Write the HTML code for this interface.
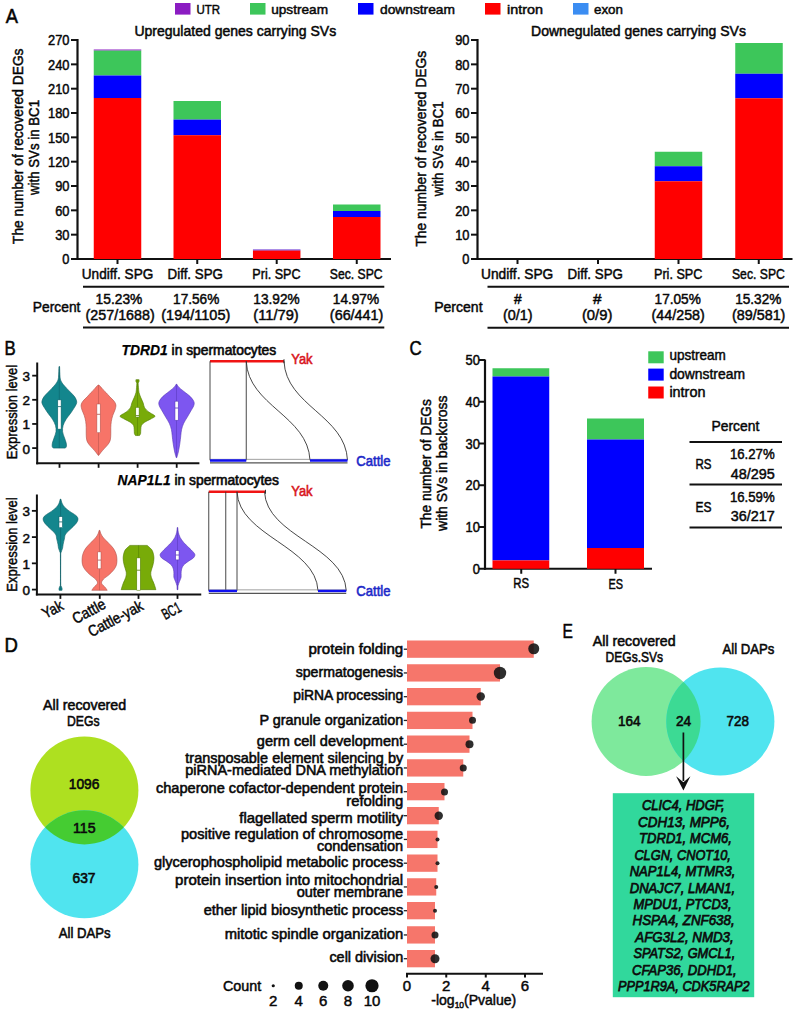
<!DOCTYPE html>
<html><head><meta charset="utf-8"><style>
html,body{margin:0;padding:0;background:#fff;}
svg{display:block;font-family:"Liberation Sans",sans-serif;}
</style></head><body>
<svg width="800" height="1016" viewBox="0 0 800 1016">
<rect width="800" height="1016" fill="#fff"/>
<text x="5.80" y="22.50" font-size="21" stroke="#111" stroke-width="0.6" textLength="12.20" lengthAdjust="spacingAndGlyphs">A</text>
<rect x="175.00" y="3.00" width="15.50" height="11.60" fill="#8B1CC2"/>
<text x="196.40" y="14.30" font-size="13.5" stroke="#111" stroke-width="0.5" textLength="23.60" lengthAdjust="spacingAndGlyphs">UTR</text>
<rect x="250.00" y="3.00" width="15.50" height="11.60" fill="#3DC65A"/>
<text x="271.20" y="14.30" font-size="13.5" stroke="#111" stroke-width="0.5" textLength="56.80" lengthAdjust="spacingAndGlyphs">upstream</text>
<rect x="358.00" y="3.00" width="15.50" height="11.60" fill="#0000FF"/>
<text x="380.00" y="14.30" font-size="13.5" stroke="#111" stroke-width="0.5" textLength="75.00" lengthAdjust="spacingAndGlyphs">downstream</text>
<rect x="485.00" y="3.00" width="15.50" height="11.60" fill="#FF0000"/>
<text x="507.00" y="14.30" font-size="13.5" stroke="#111" stroke-width="0.5" textLength="36.00" lengthAdjust="spacingAndGlyphs">intron</text>
<rect x="573.00" y="3.00" width="15.50" height="11.60" fill="#3B8DF2"/>
<text x="594.00" y="14.30" font-size="13.5" stroke="#111" stroke-width="0.5" textLength="29.00" lengthAdjust="spacingAndGlyphs">exon</text>
<text x="134.40" y="36.00" font-size="15" stroke="#111" stroke-width="0.55" textLength="201.80" lengthAdjust="spacingAndGlyphs">Upregulated genes carrying SVs</text>
<text x="531.10" y="36.00" font-size="15" stroke="#111" stroke-width="0.55" textLength="214.80" lengthAdjust="spacingAndGlyphs">Downegulated genes carrying SVs</text>
<line x1="77.50" y1="39.00" x2="77.50" y2="260.00" stroke="#111" stroke-width="2.2"/>
<line x1="76.50" y1="259.00" x2="391.00" y2="259.00" stroke="#111" stroke-width="2.2"/>
<line x1="71.00" y1="259.00" x2="77.50" y2="259.00" stroke="#111" stroke-width="2"/>
<text x="69.50" y="264.20" font-size="14.5" stroke="#111" stroke-width="0.5" text-anchor="end" textLength="7.15" lengthAdjust="spacingAndGlyphs">0</text>
<line x1="71.00" y1="234.67" x2="77.50" y2="234.67" stroke="#111" stroke-width="2"/>
<text x="69.50" y="239.87" font-size="14.5" stroke="#111" stroke-width="0.5" text-anchor="end" textLength="14.30" lengthAdjust="spacingAndGlyphs">30</text>
<line x1="71.00" y1="210.34" x2="77.50" y2="210.34" stroke="#111" stroke-width="2"/>
<text x="69.50" y="215.54" font-size="14.5" stroke="#111" stroke-width="0.5" text-anchor="end" textLength="14.30" lengthAdjust="spacingAndGlyphs">60</text>
<line x1="71.00" y1="186.01" x2="77.50" y2="186.01" stroke="#111" stroke-width="2"/>
<text x="69.50" y="191.21" font-size="14.5" stroke="#111" stroke-width="0.5" text-anchor="end" textLength="14.30" lengthAdjust="spacingAndGlyphs">90</text>
<line x1="71.00" y1="161.68" x2="77.50" y2="161.68" stroke="#111" stroke-width="2"/>
<text x="69.50" y="166.88" font-size="14.5" stroke="#111" stroke-width="0.5" text-anchor="end" textLength="21.45" lengthAdjust="spacingAndGlyphs">120</text>
<line x1="71.00" y1="137.35" x2="77.50" y2="137.35" stroke="#111" stroke-width="2"/>
<text x="69.50" y="142.55" font-size="14.5" stroke="#111" stroke-width="0.5" text-anchor="end" textLength="21.45" lengthAdjust="spacingAndGlyphs">150</text>
<line x1="71.00" y1="113.02" x2="77.50" y2="113.02" stroke="#111" stroke-width="2"/>
<text x="69.50" y="118.22" font-size="14.5" stroke="#111" stroke-width="0.5" text-anchor="end" textLength="21.45" lengthAdjust="spacingAndGlyphs">180</text>
<line x1="71.00" y1="88.69" x2="77.50" y2="88.69" stroke="#111" stroke-width="2"/>
<text x="69.50" y="93.89" font-size="14.5" stroke="#111" stroke-width="0.5" text-anchor="end" textLength="21.45" lengthAdjust="spacingAndGlyphs">210</text>
<line x1="71.00" y1="64.36" x2="77.50" y2="64.36" stroke="#111" stroke-width="2"/>
<text x="69.50" y="69.56" font-size="14.5" stroke="#111" stroke-width="0.5" text-anchor="end" textLength="21.45" lengthAdjust="spacingAndGlyphs">240</text>
<line x1="71.00" y1="40.03" x2="77.50" y2="40.03" stroke="#111" stroke-width="2"/>
<text x="69.50" y="45.23" font-size="14.5" stroke="#111" stroke-width="0.5" text-anchor="end" textLength="21.45" lengthAdjust="spacingAndGlyphs">270</text>
<line x1="117.50" y1="259.00" x2="117.50" y2="264.00" stroke="#111" stroke-width="2"/>
<line x1="197.25" y1="259.00" x2="197.25" y2="264.00" stroke="#111" stroke-width="2"/>
<line x1="276.70" y1="259.00" x2="276.70" y2="264.00" stroke="#111" stroke-width="2"/>
<line x1="356.75" y1="259.00" x2="356.75" y2="264.00" stroke="#111" stroke-width="2"/>
<rect x="93.75" y="49.50" width="47.50" height="1.10" fill="#8B1CC2"/>
<rect x="93.75" y="50.60" width="47.50" height="24.90" fill="#3DC65A"/>
<rect x="93.75" y="75.50" width="47.50" height="22.50" fill="#0000FF"/>
<rect x="93.75" y="98.00" width="47.50" height="161.00" fill="#FF0000"/>
<rect x="173.50" y="101.00" width="47.50" height="18.60" fill="#3DC65A"/>
<rect x="173.50" y="119.60" width="47.50" height="15.60" fill="#0000FF"/>
<rect x="173.50" y="135.20" width="47.50" height="123.80" fill="#FF0000"/>
<rect x="252.95" y="249.50" width="47.50" height="1.10" fill="#5a20d0"/>
<rect x="252.95" y="250.60" width="47.50" height="8.40" fill="#FF0000"/>
<rect x="333.00" y="204.50" width="47.50" height="6.50" fill="#3DC65A"/>
<rect x="333.00" y="211.00" width="47.50" height="6.00" fill="#0000FF"/>
<rect x="333.00" y="217.00" width="47.50" height="42.00" fill="#FF0000"/>
<text x="117.55" y="279.25" font-size="15" stroke="#111" stroke-width="0.5" text-anchor="middle" textLength="71.50" lengthAdjust="spacingAndGlyphs">Undiff. SPG</text>
<text x="195.25" y="279.25" font-size="15" stroke="#111" stroke-width="0.5" text-anchor="middle" textLength="55.30" lengthAdjust="spacingAndGlyphs">Diff. SPG</text>
<text x="276.48" y="279.25" font-size="15" stroke="#111" stroke-width="0.5" text-anchor="middle" textLength="48.25" lengthAdjust="spacingAndGlyphs">Pri. SPC</text>
<text x="356.23" y="279.25" font-size="15" stroke="#111" stroke-width="0.5" text-anchor="middle" textLength="52.75" lengthAdjust="spacingAndGlyphs">Sec. SPC</text>
<line x1="83.00" y1="286.80" x2="384.30" y2="286.80" stroke="#111" stroke-width="2"/>
<line x1="83.00" y1="327.60" x2="384.30" y2="327.60" stroke="#111" stroke-width="2"/>
<text x="56.62" y="312.25" font-size="15" stroke="#111" stroke-width="0.5" text-anchor="middle" textLength="47.55" lengthAdjust="spacingAndGlyphs">Percent</text>
<text x="118.95" y="304.30" font-size="15" stroke="#111" stroke-width="0.5" text-anchor="middle" textLength="46.70" lengthAdjust="spacingAndGlyphs">15.23%</text>
<text x="120.12" y="319.60" font-size="15" stroke="#111" stroke-width="0.5" text-anchor="middle" textLength="69.05" lengthAdjust="spacingAndGlyphs">(257/1688)</text>
<text x="196.20" y="304.30" font-size="15" stroke="#111" stroke-width="0.5" text-anchor="middle" textLength="46.20" lengthAdjust="spacingAndGlyphs">17.56%</text>
<text x="195.80" y="319.60" font-size="15" stroke="#111" stroke-width="0.5" text-anchor="middle" textLength="69.00" lengthAdjust="spacingAndGlyphs">(194/1105)</text>
<text x="276.48" y="304.30" font-size="15" stroke="#111" stroke-width="0.5" text-anchor="middle" textLength="46.35" lengthAdjust="spacingAndGlyphs">13.92%</text>
<text x="276.00" y="319.60" font-size="15" stroke="#111" stroke-width="0.5" text-anchor="middle" textLength="45.40" lengthAdjust="spacingAndGlyphs">(11/79)</text>
<text x="355.95" y="304.30" font-size="15" stroke="#111" stroke-width="0.5" text-anchor="middle" textLength="46.30" lengthAdjust="spacingAndGlyphs">14.97%</text>
<text x="356.62" y="319.60" font-size="15" stroke="#111" stroke-width="0.5" text-anchor="middle" textLength="53.55" lengthAdjust="spacingAndGlyphs">(66/441)</text>
<text x="23.40" y="146.25" font-size="15" stroke="#111" stroke-width="0.5" text-anchor="middle" textLength="195.50" lengthAdjust="spacingAndGlyphs" transform="rotate(-90 23.40 146.25)">The number of recovered DEGs</text>
<text x="39.40" y="147.50" font-size="15" stroke="#111" stroke-width="0.5" text-anchor="middle" textLength="95.00" lengthAdjust="spacingAndGlyphs" transform="rotate(-90 39.40 147.50)">with SVs in BC1</text>
<line x1="477.50" y1="39.00" x2="477.50" y2="260.00" stroke="#111" stroke-width="2.2"/>
<line x1="476.50" y1="259.00" x2="792.50" y2="259.00" stroke="#111" stroke-width="2.2"/>
<line x1="471.00" y1="259.00" x2="477.50" y2="259.00" stroke="#111" stroke-width="2"/>
<text x="469.50" y="264.20" font-size="14.5" stroke="#111" stroke-width="0.5" text-anchor="end" textLength="7.15" lengthAdjust="spacingAndGlyphs">0</text>
<line x1="471.00" y1="234.67" x2="477.50" y2="234.67" stroke="#111" stroke-width="2"/>
<text x="469.50" y="239.87" font-size="14.5" stroke="#111" stroke-width="0.5" text-anchor="end" textLength="14.30" lengthAdjust="spacingAndGlyphs">10</text>
<line x1="471.00" y1="210.34" x2="477.50" y2="210.34" stroke="#111" stroke-width="2"/>
<text x="469.50" y="215.54" font-size="14.5" stroke="#111" stroke-width="0.5" text-anchor="end" textLength="14.30" lengthAdjust="spacingAndGlyphs">20</text>
<line x1="471.00" y1="186.01" x2="477.50" y2="186.01" stroke="#111" stroke-width="2"/>
<text x="469.50" y="191.21" font-size="14.5" stroke="#111" stroke-width="0.5" text-anchor="end" textLength="14.30" lengthAdjust="spacingAndGlyphs">30</text>
<line x1="471.00" y1="161.68" x2="477.50" y2="161.68" stroke="#111" stroke-width="2"/>
<text x="469.50" y="166.88" font-size="14.5" stroke="#111" stroke-width="0.5" text-anchor="end" textLength="14.30" lengthAdjust="spacingAndGlyphs">40</text>
<line x1="471.00" y1="137.35" x2="477.50" y2="137.35" stroke="#111" stroke-width="2"/>
<text x="469.50" y="142.55" font-size="14.5" stroke="#111" stroke-width="0.5" text-anchor="end" textLength="14.30" lengthAdjust="spacingAndGlyphs">50</text>
<line x1="471.00" y1="113.02" x2="477.50" y2="113.02" stroke="#111" stroke-width="2"/>
<text x="469.50" y="118.22" font-size="14.5" stroke="#111" stroke-width="0.5" text-anchor="end" textLength="14.30" lengthAdjust="spacingAndGlyphs">60</text>
<line x1="471.00" y1="88.69" x2="477.50" y2="88.69" stroke="#111" stroke-width="2"/>
<text x="469.50" y="93.89" font-size="14.5" stroke="#111" stroke-width="0.5" text-anchor="end" textLength="14.30" lengthAdjust="spacingAndGlyphs">70</text>
<line x1="471.00" y1="64.36" x2="477.50" y2="64.36" stroke="#111" stroke-width="2"/>
<text x="469.50" y="69.56" font-size="14.5" stroke="#111" stroke-width="0.5" text-anchor="end" textLength="14.30" lengthAdjust="spacingAndGlyphs">80</text>
<line x1="471.00" y1="40.03" x2="477.50" y2="40.03" stroke="#111" stroke-width="2"/>
<text x="469.50" y="45.23" font-size="14.5" stroke="#111" stroke-width="0.5" text-anchor="end" textLength="14.30" lengthAdjust="spacingAndGlyphs">90</text>
<line x1="517.50" y1="259.00" x2="517.50" y2="264.00" stroke="#111" stroke-width="2"/>
<line x1="598.00" y1="259.00" x2="598.00" y2="264.00" stroke="#111" stroke-width="2"/>
<line x1="678.50" y1="259.00" x2="678.50" y2="264.00" stroke="#111" stroke-width="2"/>
<line x1="758.75" y1="259.00" x2="758.75" y2="264.00" stroke="#111" stroke-width="2"/>
<rect x="654.75" y="151.75" width="47.50" height="14.50" fill="#3DC65A"/>
<rect x="654.75" y="166.25" width="47.50" height="15.00" fill="#0000FF"/>
<rect x="654.75" y="181.25" width="47.50" height="77.75" fill="#FF0000"/>
<rect x="735.25" y="43.00" width="47.50" height="30.75" fill="#3DC65A"/>
<rect x="735.25" y="73.75" width="47.50" height="24.50" fill="#0000FF"/>
<rect x="735.25" y="98.25" width="47.50" height="160.75" fill="#FF0000"/>
<text x="517.15" y="278.90" font-size="15" stroke="#111" stroke-width="0.5" text-anchor="middle" textLength="72.30" lengthAdjust="spacingAndGlyphs">Undiff. SPG</text>
<text x="595.25" y="278.90" font-size="15" stroke="#111" stroke-width="0.5" text-anchor="middle" textLength="55.30" lengthAdjust="spacingAndGlyphs">Diff. SPG</text>
<text x="678.20" y="278.90" font-size="15" stroke="#111" stroke-width="0.5" text-anchor="middle" textLength="48.40" lengthAdjust="spacingAndGlyphs">Pri. SPC</text>
<text x="758.40" y="278.90" font-size="15" stroke="#111" stroke-width="0.5" text-anchor="middle" textLength="52.80" lengthAdjust="spacingAndGlyphs">Sec. SPC</text>
<line x1="487.50" y1="286.70" x2="789.00" y2="286.70" stroke="#111" stroke-width="2"/>
<line x1="487.50" y1="327.70" x2="789.00" y2="327.70" stroke="#111" stroke-width="2"/>
<text x="458.40" y="312.25" font-size="15" stroke="#111" stroke-width="0.5" text-anchor="middle" textLength="48.40" lengthAdjust="spacingAndGlyphs">Percent</text>
<text x="517.83" y="304.00" font-size="15" stroke="#111" stroke-width="0.5" text-anchor="middle" textLength="7.65" lengthAdjust="spacingAndGlyphs">#</text>
<text x="517.83" y="320.20" font-size="15" stroke="#111" stroke-width="0.5" text-anchor="middle" textLength="29.65" lengthAdjust="spacingAndGlyphs">(0/1)</text>
<text x="597.15" y="304.00" font-size="15" stroke="#111" stroke-width="0.5" text-anchor="middle" textLength="8.50" lengthAdjust="spacingAndGlyphs">#</text>
<text x="597.15" y="320.20" font-size="15" stroke="#111" stroke-width="0.5" text-anchor="middle" textLength="30.50" lengthAdjust="spacingAndGlyphs">(0/9)</text>
<text x="677.70" y="304.00" font-size="15" stroke="#111" stroke-width="0.5" text-anchor="middle" textLength="46.20" lengthAdjust="spacingAndGlyphs">17.05%</text>
<text x="678.20" y="320.20" font-size="15" stroke="#111" stroke-width="0.5" text-anchor="middle" textLength="53.20" lengthAdjust="spacingAndGlyphs">(44/258)</text>
<text x="758.30" y="304.00" font-size="15" stroke="#111" stroke-width="0.5" text-anchor="middle" textLength="46.20" lengthAdjust="spacingAndGlyphs">15.32%</text>
<text x="758.70" y="320.20" font-size="15" stroke="#111" stroke-width="0.5" text-anchor="middle" textLength="53.40" lengthAdjust="spacingAndGlyphs">(89/581)</text>
<text x="425.90" y="148.75" font-size="15" stroke="#111" stroke-width="0.5" text-anchor="middle" textLength="195.70" lengthAdjust="spacingAndGlyphs" transform="rotate(-90 425.90 148.75)">The number of recovered DEGs</text>
<text x="443.20" y="148.80" font-size="15" stroke="#111" stroke-width="0.5" text-anchor="middle" textLength="94.80" lengthAdjust="spacingAndGlyphs" transform="rotate(-90 443.20 148.80)">with SVs in BC1</text>
<text x="4.60" y="355.10" font-size="21" stroke="#111" stroke-width="0.6" textLength="11.20" lengthAdjust="spacingAndGlyphs">B</text>
<text x="121.60" y="354.60" font-size="15" stroke="#111" stroke-width="0.7" textLength="154.60" lengthAdjust="spacingAndGlyphs"><tspan font-style="italic" font-weight="bold" stroke-width="0.25">TDRD1</tspan> in spermatocytes</text>
<line x1="37.20" y1="362.50" x2="37.20" y2="464.30" stroke="#111" stroke-width="2"/>
<line x1="36.20" y1="463.30" x2="199.40" y2="463.30" stroke="#111" stroke-width="2"/>
<line x1="32.20" y1="448.10" x2="37.20" y2="448.10" stroke="#111" stroke-width="1.8"/>
<text x="30.00" y="453.60" font-size="13.5" stroke="#111" stroke-width="0.5" text-anchor="end">0</text>
<line x1="32.20" y1="423.95" x2="37.20" y2="423.95" stroke="#111" stroke-width="1.8"/>
<text x="30.00" y="429.45" font-size="13.5" stroke="#111" stroke-width="0.5" text-anchor="end">1</text>
<line x1="32.20" y1="399.80" x2="37.20" y2="399.80" stroke="#111" stroke-width="1.8"/>
<text x="30.00" y="405.30" font-size="13.5" stroke="#111" stroke-width="0.5" text-anchor="end">2</text>
<line x1="32.20" y1="375.65" x2="37.20" y2="375.65" stroke="#111" stroke-width="1.8"/>
<text x="30.00" y="381.15" font-size="13.5" stroke="#111" stroke-width="0.5" text-anchor="end">3</text>
<line x1="59.50" y1="463.30" x2="59.50" y2="467.80" stroke="#111" stroke-width="1.8"/>
<line x1="98.60" y1="463.30" x2="98.60" y2="467.80" stroke="#111" stroke-width="1.8"/>
<line x1="137.60" y1="463.30" x2="137.60" y2="467.80" stroke="#111" stroke-width="1.8"/>
<line x1="176.70" y1="463.30" x2="176.70" y2="467.80" stroke="#111" stroke-width="1.8"/>
<text x="17.30" y="412.00" font-size="15" stroke="#111" stroke-width="0.5" text-anchor="middle" textLength="94.30" lengthAdjust="spacingAndGlyphs" transform="rotate(-90 17.30 412.00)">Expression level</text>
<path d="M59.60,366.60 C59.68,368.40 59.82,374.92 60.10,377.40 C60.38,379.88 60.77,380.32 61.30,381.50 C61.83,382.68 62.35,383.31 63.30,384.50 C64.25,385.69 65.72,387.27 67.00,388.65 C68.28,390.02 69.72,391.38 71.00,392.75 C72.28,394.12 73.77,395.48 74.70,396.85 C75.63,398.22 76.33,399.76 76.60,400.95 C76.87,402.14 76.73,402.81 76.30,404.00 C75.87,405.19 74.95,406.56 74.00,408.10 C73.05,409.64 71.93,411.37 70.60,413.25 C69.27,415.13 67.25,417.35 66.00,419.40 C64.75,421.45 63.67,423.50 63.10,425.55 C62.53,427.60 62.37,429.65 62.60,431.70 C62.83,433.75 63.90,435.97 64.50,437.85 C65.10,439.73 65.88,441.56 66.20,443.00 C66.52,444.44 66.55,445.65 66.40,446.50 C66.25,447.35 65.48,447.83 65.30,448.10 L53.30,448.10 C53.12,447.83 52.35,447.35 52.20,446.50 C52.05,445.65 52.08,444.44 52.40,443.00 C52.72,441.56 53.50,439.73 54.10,437.85 C54.70,435.97 55.77,433.75 56.00,431.70 C56.23,429.65 56.07,427.60 55.50,425.55 C54.93,423.50 53.85,421.45 52.60,419.40 C51.35,417.35 49.33,415.13 48.00,413.25 C46.67,411.37 45.55,409.64 44.60,408.10 C43.65,406.56 42.73,405.19 42.30,404.00 C41.87,402.81 41.73,402.14 42.00,400.95 C42.27,399.76 42.97,398.22 43.90,396.85 C44.83,395.48 46.32,394.12 47.60,392.75 C48.88,391.38 50.32,390.02 51.60,388.65 C52.88,387.27 54.35,385.69 55.30,384.50 C56.25,383.31 56.77,382.68 57.30,381.50 C57.83,380.32 58.22,379.88 58.50,377.40 C58.78,374.92 58.92,368.40 59.00,366.60 Z" fill="#13868D" stroke="#0d5f66" stroke-width="0.6"/>
<line x1="59.30" y1="366.60" x2="59.30" y2="448.10" stroke="#0d5f66" stroke-width="0.5"/>
<rect x="57.80" y="399.90" width="3.30" height="29.20" fill="#fff"/>
<rect x="57.80" y="399.90" width="3.30" height="29.20" fill="none" stroke="#0d5f66" stroke-width="0.5"/>
<line x1="57.80" y1="406.60" x2="61.10" y2="406.60" stroke="#0d5f66" stroke-width="0.8"/>
<path d="M98.90,385.10 C99.17,385.35 99.80,385.83 100.50,386.60 C101.20,387.37 102.15,388.68 103.10,389.70 C104.05,390.72 105.08,391.56 106.20,392.75 C107.32,393.94 108.52,395.48 109.80,396.85 C111.08,398.22 112.88,399.59 113.90,400.95 C114.92,402.31 115.73,403.46 115.90,405.00 C116.07,406.54 115.42,408.48 114.90,410.20 C114.38,411.92 113.40,413.43 112.80,415.30 C112.20,417.18 111.63,419.40 111.30,421.45 C110.97,423.50 110.88,425.55 110.80,427.60 C110.72,429.65 110.88,431.70 110.80,433.75 C110.72,435.80 110.72,438.19 110.30,439.90 C109.88,441.61 109.23,442.63 108.30,444.00 C107.37,445.37 105.90,446.73 104.70,448.10 C103.50,449.47 102.07,451.00 101.10,452.20 C100.13,453.40 99.27,454.78 98.90,455.30 L98.10,455.30 C97.73,454.78 96.87,453.40 95.90,452.20 C94.93,451.00 93.50,449.47 92.30,448.10 C91.10,446.73 89.63,445.37 88.70,444.00 C87.77,442.63 87.12,441.61 86.70,439.90 C86.28,438.19 86.28,435.80 86.20,433.75 C86.12,431.70 86.28,429.65 86.20,427.60 C86.12,425.55 86.03,423.50 85.70,421.45 C85.37,419.40 84.80,417.18 84.20,415.30 C83.60,413.43 82.62,411.92 82.10,410.20 C81.58,408.48 80.93,406.54 81.10,405.00 C81.27,403.46 82.08,402.31 83.10,400.95 C84.12,399.59 85.92,398.22 87.20,396.85 C88.48,395.48 89.68,393.94 90.80,392.75 C91.92,391.56 92.95,390.72 93.90,389.70 C94.85,388.68 95.80,387.37 96.50,386.60 C97.20,385.83 97.83,385.35 98.10,385.10 Z" fill="#F77468" stroke="#b0504a" stroke-width="0.6"/>
<line x1="98.50" y1="385.10" x2="98.50" y2="455.30" stroke="#b0504a" stroke-width="0.5"/>
<rect x="96.90" y="404.00" width="3.30" height="28.70" fill="#fff"/>
<rect x="96.90" y="404.00" width="3.30" height="28.70" fill="none" stroke="#b0504a" stroke-width="0.5"/>
<line x1="96.90" y1="414.30" x2="100.20" y2="414.30" stroke="#b0504a" stroke-width="0.8"/>
<path d="M139.10,379.70 C139.08,380.03 139.15,381.10 139.00,381.70 C138.85,382.30 138.28,382.35 138.20,383.30 C138.12,384.25 138.37,385.87 138.50,387.40 C138.63,388.93 138.62,390.80 139.00,392.50 C139.38,394.20 140.12,395.89 140.80,397.60 C141.48,399.31 142.45,401.03 143.10,402.75 C143.75,404.47 143.75,406.36 144.70,407.90 C145.65,409.44 147.28,410.82 148.80,412.00 C150.32,413.18 152.78,414.23 153.80,415.00 C154.82,415.77 155.45,415.91 154.90,416.60 C154.35,417.29 152.20,418.22 150.50,419.15 C148.80,420.08 146.20,421.17 144.70,422.20 C143.20,423.23 142.15,424.10 141.50,425.30 C140.85,426.50 140.95,428.03 140.80,429.40 C140.65,430.77 140.82,432.48 140.60,433.50 C140.38,434.52 139.68,435.21 139.50,435.55 L135.50,435.55 C135.32,435.21 134.62,434.52 134.40,433.50 C134.18,432.48 134.35,430.77 134.20,429.40 C134.05,428.03 134.15,426.50 133.50,425.30 C132.85,424.10 131.80,423.23 130.30,422.20 C128.80,421.17 126.20,420.08 124.50,419.15 C122.80,418.22 120.65,417.29 120.10,416.60 C119.55,415.91 120.18,415.77 121.20,415.00 C122.22,414.23 124.68,413.18 126.20,412.00 C127.72,410.82 129.35,409.44 130.30,407.90 C131.25,406.36 131.25,404.47 131.90,402.75 C132.55,401.03 133.52,399.31 134.20,397.60 C134.88,395.89 135.62,394.20 136.00,392.50 C136.38,390.80 136.37,388.93 136.50,387.40 C136.63,385.87 136.88,384.25 136.80,383.30 C136.72,382.35 136.15,382.30 136.00,381.70 C135.85,381.10 135.92,380.03 135.90,379.70 Z" fill="#78AB08" stroke="#4f7a00" stroke-width="0.6"/>
<line x1="137.50" y1="379.70" x2="137.50" y2="435.55" stroke="#4f7a00" stroke-width="0.5"/>
<rect x="135.80" y="407.40" width="3.30" height="9.70" fill="#fff"/>
<rect x="135.80" y="407.40" width="3.30" height="9.70" fill="none" stroke="#4f7a00" stroke-width="0.5"/>
<line x1="135.80" y1="415.60" x2="139.10" y2="415.60" stroke="#4f7a00" stroke-width="0.8"/>
<path d="M176.90,384.30 C177.25,384.82 177.62,386.03 179.00,387.40 C180.38,388.77 183.32,390.97 185.20,392.50 C187.08,394.03 188.85,395.07 190.30,396.60 C191.75,398.13 193.33,400.17 193.90,401.70 C194.47,403.23 194.22,404.25 193.70,405.80 C193.18,407.35 191.87,409.12 190.80,411.00 C189.73,412.88 188.48,415.06 187.30,417.10 C186.12,419.14 184.65,421.20 183.70,423.25 C182.75,425.30 182.08,427.35 181.60,429.40 C181.12,431.45 181.10,433.16 180.80,435.55 C180.50,437.94 180.22,441.01 179.80,443.75 C179.38,446.49 178.80,449.69 178.30,452.00 C177.80,454.31 177.05,456.67 176.80,457.60 L176.20,457.60 C175.95,456.67 175.20,454.31 174.70,452.00 C174.20,449.69 173.62,446.49 173.20,443.75 C172.78,441.01 172.50,437.94 172.20,435.55 C171.90,433.16 171.88,431.45 171.40,429.40 C170.92,427.35 170.25,425.30 169.30,423.25 C168.35,421.20 166.88,419.14 165.70,417.10 C164.52,415.06 163.27,412.88 162.20,411.00 C161.13,409.12 159.82,407.35 159.30,405.80 C158.78,404.25 158.53,403.23 159.10,401.70 C159.67,400.17 161.25,398.13 162.70,396.60 C164.15,395.07 165.92,394.03 167.80,392.50 C169.68,390.97 172.62,388.77 174.00,387.40 C175.38,386.03 175.75,384.82 176.10,384.30 Z" fill="#7D56F0" stroke="#5535b5" stroke-width="0.6"/>
<line x1="176.50" y1="384.30" x2="176.50" y2="457.60" stroke="#5535b5" stroke-width="0.5"/>
<rect x="175.00" y="401.20" width="3.20" height="19.00" fill="#fff"/>
<rect x="175.00" y="401.20" width="3.20" height="19.00" fill="none" stroke="#5535b5" stroke-width="0.5"/>
<line x1="175.00" y1="408.00" x2="178.20" y2="408.00" stroke="#5535b5" stroke-width="0.8"/>
<text x="117.60" y="485.30" font-size="15" stroke="#111" stroke-width="0.7" textLength="161.30" lengthAdjust="spacingAndGlyphs"><tspan font-style="italic" font-weight="bold" stroke-width="0.25">NAP1L1</tspan> in spermatocytes</text>
<line x1="36.90" y1="494.50" x2="36.90" y2="595.40" stroke="#111" stroke-width="2"/>
<line x1="35.90" y1="594.40" x2="201.25" y2="594.40" stroke="#111" stroke-width="2"/>
<line x1="31.90" y1="589.60" x2="36.90" y2="589.60" stroke="#111" stroke-width="1.8"/>
<text x="30.00" y="595.10" font-size="13.5" stroke="#111" stroke-width="0.5" text-anchor="end">0</text>
<line x1="31.90" y1="563.35" x2="36.90" y2="563.35" stroke="#111" stroke-width="1.8"/>
<text x="30.00" y="568.85" font-size="13.5" stroke="#111" stroke-width="0.5" text-anchor="end">1</text>
<line x1="31.90" y1="537.10" x2="36.90" y2="537.10" stroke="#111" stroke-width="1.8"/>
<text x="30.00" y="542.60" font-size="13.5" stroke="#111" stroke-width="0.5" text-anchor="end">2</text>
<line x1="31.90" y1="510.85" x2="36.90" y2="510.85" stroke="#111" stroke-width="1.8"/>
<text x="30.00" y="516.35" font-size="13.5" stroke="#111" stroke-width="0.5" text-anchor="end">3</text>
<line x1="60.40" y1="594.40" x2="60.40" y2="598.90" stroke="#111" stroke-width="1.8"/>
<line x1="99.75" y1="594.40" x2="99.75" y2="598.90" stroke="#111" stroke-width="1.8"/>
<line x1="138.50" y1="594.40" x2="138.50" y2="598.90" stroke="#111" stroke-width="1.8"/>
<line x1="177.50" y1="594.40" x2="177.50" y2="598.90" stroke="#111" stroke-width="1.8"/>
<text x="17.30" y="544.50" font-size="15" stroke="#111" stroke-width="0.5" text-anchor="middle" textLength="94.30" lengthAdjust="spacingAndGlyphs" transform="rotate(-90 17.30 544.50)">Expression level</text>
<path d="M60.85,499.10 C61.05,499.78 61.42,501.83 62.05,503.20 C62.68,504.57 63.37,505.93 64.65,507.30 C65.93,508.67 67.87,510.03 69.75,511.40 C71.63,512.77 74.58,514.30 75.95,515.50 C77.32,516.70 77.73,517.58 77.95,518.60 C78.17,519.62 77.75,520.63 77.25,521.65 C76.75,522.67 76.02,523.51 74.95,524.70 C73.88,525.89 72.40,527.25 70.85,528.80 C69.30,530.35 66.73,532.28 65.65,534.00 C64.57,535.72 64.77,537.40 64.35,539.10 C63.93,540.80 63.45,542.67 63.15,544.20 C62.85,545.73 62.90,546.93 62.55,548.30 C62.20,549.67 61.36,551.12 61.05,552.40 C60.74,553.68 60.76,550.73 60.70,556.00 C60.64,561.27 60.59,578.92 60.70,584.00 C60.81,589.08 61.12,585.78 61.35,586.50 C61.57,587.22 61.93,587.67 62.05,588.30 C62.17,588.93 62.05,589.97 62.05,590.30 L59.05,590.30 C59.05,589.97 58.93,588.93 59.05,588.30 C59.17,587.67 59.52,587.22 59.75,586.50 C59.98,585.78 60.29,589.08 60.40,584.00 C60.51,578.92 60.46,561.27 60.40,556.00 C60.34,550.73 60.36,553.68 60.05,552.40 C59.74,551.12 58.90,549.67 58.55,548.30 C58.20,546.93 58.25,545.73 57.95,544.20 C57.65,542.67 57.17,540.80 56.75,539.10 C56.33,537.40 56.53,535.72 55.45,534.00 C54.37,532.28 51.80,530.35 50.25,528.80 C48.70,527.25 47.22,525.89 46.15,524.70 C45.08,523.51 44.35,522.67 43.85,521.65 C43.35,520.63 42.93,519.62 43.15,518.60 C43.37,517.58 43.78,516.70 45.15,515.50 C46.52,514.30 49.47,512.77 51.35,511.40 C53.23,510.03 55.17,508.67 56.45,507.30 C57.73,505.93 58.42,504.57 59.05,503.20 C59.68,501.83 60.05,499.78 60.25,499.10 Z" fill="#13868D" stroke="#0d5f66" stroke-width="0.6"/>
<line x1="60.55" y1="499.10" x2="60.55" y2="590.30" stroke="#0d5f66" stroke-width="0.5"/>
<rect x="59.00" y="516.70" width="3.40" height="10.90" fill="#fff"/>
<rect x="59.00" y="516.70" width="3.40" height="10.90" fill="none" stroke="#0d5f66" stroke-width="0.5"/>
<line x1="59.00" y1="521.90" x2="62.40" y2="521.90" stroke="#0d5f66" stroke-width="0.8"/>
<path d="M99.90,530.40 C100.08,531.00 100.38,532.73 101.00,534.00 C101.62,535.27 102.32,536.47 103.60,538.00 C104.88,539.53 107.08,541.48 108.70,543.20 C110.32,544.92 112.10,546.60 113.30,548.30 C114.50,550.00 115.30,551.69 115.90,553.40 C116.50,555.11 116.80,556.67 116.90,558.55 C117.00,560.43 117.02,562.83 116.50,564.70 C115.98,566.58 115.10,568.08 113.80,569.80 C112.50,571.52 110.40,573.47 108.70,575.00 C107.00,576.53 104.80,577.64 103.60,579.00 C102.40,580.36 101.25,581.77 101.50,583.15 C101.75,584.52 104.15,586.06 105.10,587.25 C106.05,588.44 106.85,589.79 107.20,590.30 L91.80,590.30 C92.15,589.79 92.95,588.44 93.90,587.25 C94.85,586.06 97.25,584.52 97.50,583.15 C97.75,581.77 96.60,580.36 95.40,579.00 C94.20,577.64 92.00,576.53 90.30,575.00 C88.60,573.47 86.50,571.52 85.20,569.80 C83.90,568.08 83.02,566.58 82.50,564.70 C81.98,562.83 82.00,560.43 82.10,558.55 C82.20,556.67 82.50,555.11 83.10,553.40 C83.70,551.69 84.50,550.00 85.70,548.30 C86.90,546.60 88.68,544.92 90.30,543.20 C91.92,541.48 94.12,539.53 95.40,538.00 C96.68,536.47 97.38,535.27 98.00,534.00 C98.62,532.73 98.92,531.00 99.10,530.40 Z" fill="#F77468" stroke="#b0504a" stroke-width="0.6"/>
<line x1="99.50" y1="530.40" x2="99.50" y2="590.30" stroke="#b0504a" stroke-width="0.5"/>
<rect x="97.75" y="551.90" width="3.25" height="16.90" fill="#fff"/>
<rect x="97.75" y="551.90" width="3.25" height="16.90" fill="none" stroke="#b0504a" stroke-width="0.5"/>
<line x1="97.75" y1="560.10" x2="101.00" y2="560.10" stroke="#b0504a" stroke-width="0.8"/>
<path d="M147.25,545.40 C147.47,545.60 147.70,545.72 148.55,546.60 C149.40,547.48 151.45,548.82 152.35,550.70 C153.25,552.58 153.85,555.52 153.95,557.90 C154.05,560.28 153.47,562.62 152.95,565.00 C152.43,567.38 151.12,570.14 150.85,572.20 C150.58,574.26 150.83,575.47 151.35,577.35 C151.87,579.23 153.18,581.45 153.95,583.50 C154.72,585.55 155.62,588.62 155.95,589.65 L121.15,589.65 C121.48,588.62 122.38,585.55 123.15,583.50 C123.92,581.45 125.23,579.23 125.75,577.35 C126.27,575.47 126.52,574.26 126.25,572.20 C125.98,570.14 124.67,567.38 124.15,565.00 C123.63,562.62 123.05,560.28 123.15,557.90 C123.25,555.52 123.85,552.58 124.75,550.70 C125.65,548.82 127.70,547.48 128.55,546.60 C129.40,545.72 129.63,545.60 129.85,545.40 Z" fill="#78AB08" stroke="#4f7a00" stroke-width="0.6"/>
<line x1="138.55" y1="545.40" x2="138.55" y2="589.65" stroke="#4f7a00" stroke-width="0.5"/>
<rect x="136.80" y="557.90" width="3.50" height="32.30" fill="#fff"/>
<rect x="136.80" y="557.90" width="3.50" height="32.30" fill="none" stroke="#4f7a00" stroke-width="0.5"/>
<line x1="136.80" y1="570.20" x2="140.30" y2="570.20" stroke="#4f7a00" stroke-width="0.8"/>
<path d="M177.80,527.60 C177.88,528.38 177.92,530.62 178.30,532.25 C178.68,533.88 179.20,535.69 180.10,537.40 C181.00,539.11 182.25,540.80 183.70,542.50 C185.15,544.20 187.27,546.07 188.80,547.60 C190.33,549.13 191.88,550.50 192.90,551.70 C193.92,552.90 194.82,553.77 194.90,554.80 C194.98,555.83 194.42,556.87 193.40,557.90 C192.38,558.93 190.42,559.82 188.80,561.00 C187.18,562.18 184.90,563.64 183.70,565.00 C182.50,566.36 182.03,567.77 181.60,569.15 C181.17,570.52 181.18,571.88 181.10,573.25 C181.02,574.62 181.37,575.98 181.10,577.35 C180.83,578.72 180.00,580.08 179.50,581.45 C179.00,582.82 178.37,584.18 178.10,585.55 C177.83,586.92 177.93,588.97 177.90,589.65 L177.10,589.65 C177.07,588.97 177.17,586.92 176.90,585.55 C176.63,584.18 176.00,582.82 175.50,581.45 C175.00,580.08 174.17,578.72 173.90,577.35 C173.63,575.98 173.98,574.62 173.90,573.25 C173.82,571.88 173.83,570.52 173.40,569.15 C172.97,567.77 172.50,566.36 171.30,565.00 C170.10,563.64 167.82,562.18 166.20,561.00 C164.58,559.82 162.62,558.93 161.60,557.90 C160.58,556.87 160.02,555.83 160.10,554.80 C160.18,553.77 161.08,552.90 162.10,551.70 C163.12,550.50 164.67,549.13 166.20,547.60 C167.73,546.07 169.85,544.20 171.30,542.50 C172.75,540.80 174.00,539.11 174.90,537.40 C175.80,535.69 176.32,533.88 176.70,532.25 C177.08,530.62 177.12,528.38 177.20,527.60 Z" fill="#7D56F0" stroke="#5535b5" stroke-width="0.6"/>
<line x1="177.50" y1="527.60" x2="177.50" y2="589.65" stroke="#5535b5" stroke-width="0.5"/>
<rect x="175.75" y="550.70" width="3.25" height="9.20" fill="#fff"/>
<rect x="175.75" y="550.70" width="3.25" height="9.20" fill="none" stroke="#5535b5" stroke-width="0.5"/>
<line x1="175.75" y1="555.00" x2="179.00" y2="555.00" stroke="#5535b5" stroke-width="0.8"/>
<text x="64.50" y="609.00" font-size="15.5" stroke="#111" stroke-width="0.5" text-anchor="end" textLength="21.50" lengthAdjust="spacingAndGlyphs" transform="rotate(-28 64.50 609.00)">Yak</text>
<text x="107.00" y="607.50" font-size="15.5" stroke="#111" stroke-width="0.5" text-anchor="end" textLength="35.50" lengthAdjust="spacingAndGlyphs" transform="rotate(-28 107.00 607.50)">Cattle</text>
<text x="144.40" y="609.20" font-size="15.5" stroke="#111" stroke-width="0.5" text-anchor="end" textLength="60.00" lengthAdjust="spacingAndGlyphs" transform="rotate(-28 144.40 609.20)">Cattle-yak</text>
<text x="182.40" y="610.90" font-size="15.5" stroke="#111" stroke-width="0.5" text-anchor="end" textLength="19.50" lengthAdjust="spacingAndGlyphs" transform="rotate(-28 182.40 610.90)">BC1</text>
<line x1="210.00" y1="361.25" x2="284.00" y2="361.25" stroke="#F01414" stroke-width="2.6"/>
<line x1="284.00" y1="359.25" x2="284.00" y2="363.25" stroke="#333" stroke-width="1"/>
<line x1="210.00" y1="361.25" x2="210.00" y2="460.25" stroke="#333" stroke-width="0.9"/>
<line x1="246.25" y1="361.25" x2="246.25" y2="460.25" stroke="#333" stroke-width="0.9"/>
<path d="M246.25,361.25 C248.25,405.80 308.00,415.70 310.00,460.25" fill="none" stroke="#333" stroke-width="0.9"/>
<path d="M284.00,361.25 C286.00,405.80 345.50,415.70 347.50,460.25" fill="none" stroke="#333" stroke-width="0.9"/>
<line x1="210.00" y1="462.85" x2="347.50" y2="462.85" stroke="#555" stroke-width="1.1"/>
<line x1="210.00" y1="459.35" x2="347.50" y2="459.35" stroke="#777" stroke-width="0.7"/>
<line x1="210.00" y1="460.45" x2="246.25" y2="460.45" stroke="#1010F0" stroke-width="2.4"/>
<line x1="310.00" y1="460.45" x2="347.50" y2="460.45" stroke="#1010F0" stroke-width="2.4"/>
<text x="291.25" y="364.00" font-size="15" stroke="#d8141c" stroke-width="0.6" textLength="21.25" lengthAdjust="spacingAndGlyphs" fill="#d8141c">Yak</text>
<text x="356.25" y="465.50" font-size="15" stroke="#1c28c8" stroke-width="0.6" textLength="34.25" lengthAdjust="spacingAndGlyphs" fill="#1c28c8">Cattle</text>
<line x1="208.75" y1="491.75" x2="265.50" y2="491.75" stroke="#F01414" stroke-width="2.6"/>
<line x1="265.50" y1="489.75" x2="265.50" y2="493.75" stroke="#333" stroke-width="1"/>
<line x1="208.75" y1="491.75" x2="208.75" y2="590.75" stroke="#333" stroke-width="0.9"/>
<line x1="225.75" y1="491.75" x2="225.75" y2="590.75" stroke="#333" stroke-width="0.9"/>
<line x1="237.00" y1="491.75" x2="237.00" y2="590.75" stroke="#333" stroke-width="0.9"/>
<path d="M237.00,491.75 C239.00,536.30 316.00,546.20 318.00,590.75" fill="none" stroke="#333" stroke-width="0.9"/>
<path d="M264.50,491.75 C266.50,536.30 344.25,546.20 346.25,590.75" fill="none" stroke="#333" stroke-width="0.9"/>
<line x1="208.75" y1="593.35" x2="346.25" y2="593.35" stroke="#555" stroke-width="1.1"/>
<line x1="208.75" y1="589.85" x2="346.25" y2="589.85" stroke="#777" stroke-width="0.7"/>
<line x1="208.75" y1="590.95" x2="237.00" y2="590.95" stroke="#1010F0" stroke-width="2.4"/>
<line x1="318.00" y1="590.95" x2="346.25" y2="590.95" stroke="#1010F0" stroke-width="2.4"/>
<text x="291.25" y="495.75" font-size="15" stroke="#d8141c" stroke-width="0.6" textLength="21.25" lengthAdjust="spacingAndGlyphs" fill="#d8141c">Yak</text>
<text x="356.25" y="596.25" font-size="15" stroke="#1c28c8" stroke-width="0.6" textLength="34.25" lengthAdjust="spacingAndGlyphs" fill="#1c28c8">Cattle</text>
<text x="409.60" y="355.30" font-size="21" stroke="#111" stroke-width="0.6" textLength="12.20" lengthAdjust="spacingAndGlyphs">C</text>
<line x1="485.00" y1="359.50" x2="485.00" y2="569.75" stroke="#111" stroke-width="2.2"/>
<line x1="484.00" y1="568.75" x2="652.00" y2="568.75" stroke="#111" stroke-width="2.2"/>
<line x1="479.00" y1="568.75" x2="485.00" y2="568.75" stroke="#111" stroke-width="2"/>
<text x="479.80" y="573.95" font-size="14.5" stroke="#111" stroke-width="0.5" text-anchor="end" textLength="7.15" lengthAdjust="spacingAndGlyphs">0</text>
<line x1="479.00" y1="527.00" x2="485.00" y2="527.00" stroke="#111" stroke-width="2"/>
<text x="479.80" y="532.20" font-size="14.5" stroke="#111" stroke-width="0.5" text-anchor="end" textLength="14.30" lengthAdjust="spacingAndGlyphs">10</text>
<line x1="479.00" y1="485.25" x2="485.00" y2="485.25" stroke="#111" stroke-width="2"/>
<text x="479.80" y="490.45" font-size="14.5" stroke="#111" stroke-width="0.5" text-anchor="end" textLength="14.30" lengthAdjust="spacingAndGlyphs">20</text>
<line x1="479.00" y1="443.50" x2="485.00" y2="443.50" stroke="#111" stroke-width="2"/>
<text x="479.80" y="448.70" font-size="14.5" stroke="#111" stroke-width="0.5" text-anchor="end" textLength="14.30" lengthAdjust="spacingAndGlyphs">30</text>
<line x1="479.00" y1="401.75" x2="485.00" y2="401.75" stroke="#111" stroke-width="2"/>
<text x="479.80" y="406.95" font-size="14.5" stroke="#111" stroke-width="0.5" text-anchor="end" textLength="14.30" lengthAdjust="spacingAndGlyphs">40</text>
<line x1="479.00" y1="360.00" x2="485.00" y2="360.00" stroke="#111" stroke-width="2"/>
<text x="479.80" y="365.20" font-size="14.5" stroke="#111" stroke-width="0.5" text-anchor="end" textLength="14.30" lengthAdjust="spacingAndGlyphs">50</text>
<line x1="521.25" y1="568.75" x2="521.25" y2="573.75" stroke="#111" stroke-width="2"/>
<line x1="615.50" y1="568.75" x2="615.50" y2="573.75" stroke="#111" stroke-width="2"/>
<rect x="492.50" y="368.25" width="56.75" height="8.25" fill="#3DC65A"/>
<rect x="492.50" y="376.50" width="56.75" height="183.90" fill="#0000FF"/>
<rect x="492.50" y="560.40" width="56.75" height="8.35" fill="#FF0000"/>
<rect x="587.00" y="418.50" width="57.00" height="21.00" fill="#3DC65A"/>
<rect x="587.00" y="439.50" width="57.00" height="108.50" fill="#0000FF"/>
<rect x="587.00" y="548.00" width="57.00" height="20.75" fill="#FF0000"/>
<text x="521.25" y="588.00" font-size="15" stroke="#111" stroke-width="0.5" text-anchor="middle" textLength="15.80" lengthAdjust="spacingAndGlyphs">RS</text>
<text x="615.75" y="588.50" font-size="15" stroke="#111" stroke-width="0.5" text-anchor="middle" textLength="14.50" lengthAdjust="spacingAndGlyphs">ES</text>
<text x="430.90" y="463.85" font-size="15" stroke="#111" stroke-width="0.5" text-anchor="middle" textLength="129.30" lengthAdjust="spacingAndGlyphs" transform="rotate(-90 430.90 463.85)">The number of DEGs</text>
<text x="446.90" y="463.20" font-size="15" stroke="#111" stroke-width="0.5" text-anchor="middle" textLength="135.40" lengthAdjust="spacingAndGlyphs" transform="rotate(-90 446.90 463.20)">with SVs in backcross</text>
<rect x="648.25" y="351.30" width="15.45" height="12.00" fill="#3DC65A"/>
<text x="669.40" y="360.25" font-size="15" stroke="#111" stroke-width="0.5" textLength="56.40" lengthAdjust="spacingAndGlyphs">upstream</text>
<rect x="648.25" y="368.60" width="15.45" height="12.00" fill="#0000FF"/>
<text x="669.40" y="379.30" font-size="15" stroke="#111" stroke-width="0.5" textLength="75.60" lengthAdjust="spacingAndGlyphs">downstream</text>
<rect x="648.25" y="386.50" width="15.45" height="12.00" fill="#FF0000"/>
<text x="669.40" y="397.20" font-size="15" stroke="#111" stroke-width="0.5" textLength="36.00" lengthAdjust="spacingAndGlyphs">intron</text>
<text x="711.50" y="431.20" font-size="15" stroke="#111" stroke-width="0.5" textLength="47.80" lengthAdjust="spacingAndGlyphs">Percent</text>
<line x1="689.50" y1="442.00" x2="782.00" y2="442.00" stroke="#111" stroke-width="2"/>
<line x1="689.50" y1="484.60" x2="782.00" y2="484.60" stroke="#111" stroke-width="2"/>
<line x1="689.50" y1="527.50" x2="782.00" y2="527.50" stroke="#111" stroke-width="2"/>
<text x="695.50" y="468.90" font-size="15" stroke="#111" stroke-width="0.5" textLength="16.00" lengthAdjust="spacingAndGlyphs">RS</text>
<text x="695.50" y="511.50" font-size="15" stroke="#111" stroke-width="0.5" textLength="16.00" lengthAdjust="spacingAndGlyphs">ES</text>
<text x="774.70" y="459.25" font-size="15" stroke="#111" stroke-width="0.5" text-anchor="end" textLength="44.80" lengthAdjust="spacingAndGlyphs">16.27%</text>
<text x="774.70" y="478.50" font-size="15" stroke="#111" stroke-width="0.5" text-anchor="end" textLength="44.00" lengthAdjust="spacingAndGlyphs">48/295</text>
<text x="774.70" y="501.90" font-size="15" stroke="#111" stroke-width="0.5" text-anchor="end" textLength="44.80" lengthAdjust="spacingAndGlyphs">16.59%</text>
<text x="774.70" y="521.10" font-size="15" stroke="#111" stroke-width="0.5" text-anchor="end" textLength="44.00" lengthAdjust="spacingAndGlyphs">36/217</text>
<text x="4.40" y="652.30" font-size="21" stroke="#111" stroke-width="0.6" textLength="13.40" lengthAdjust="spacingAndGlyphs">D</text>
<circle cx="84.4" cy="790.4" r="54" fill="#AEE020"/>
<circle cx="84.4" cy="864.3" r="54" fill="#50E4EF"/>
<clipPath id="cpD"><circle cx="84.4" cy="790.4" r="54"/></clipPath>
<circle cx="84.4" cy="864.3" r="54" fill="#45CC32" clip-path="url(#cpD)"/>
<text x="84.60" y="709.50" font-size="15" stroke="#111" stroke-width="0.6" text-anchor="middle" textLength="83.25" lengthAdjust="spacingAndGlyphs">All recovered</text>
<text x="83.25" y="725.75" font-size="15" stroke="#111" stroke-width="0.6" text-anchor="middle" textLength="32.50" lengthAdjust="spacingAndGlyphs">DEGs</text>
<text x="84.10" y="789.25" font-size="15" stroke="#111" stroke-width="0.65" text-anchor="middle" textLength="30.75" lengthAdjust="spacingAndGlyphs">1096</text>
<text x="84.25" y="832.50" font-size="15" stroke="#111" stroke-width="0.65" text-anchor="middle" textLength="22.50" lengthAdjust="spacingAndGlyphs">115</text>
<text x="84.00" y="882.50" font-size="15" stroke="#111" stroke-width="0.65" text-anchor="middle" textLength="23.00" lengthAdjust="spacingAndGlyphs">637</text>
<text x="84.60" y="938.00" font-size="15" stroke="#111" stroke-width="0.6" text-anchor="middle" textLength="51.75" lengthAdjust="spacingAndGlyphs">All DAPs</text>
<rect x="407.00" y="640.50" width="126.75" height="17.30" fill="#F6766B"/>
<line x1="403.80" y1="649.20" x2="407.00" y2="649.20" stroke="#222" stroke-width="1.3"/>
<rect x="407.00" y="664.25" width="93.00" height="17.30" fill="#F6766B"/>
<line x1="403.80" y1="672.95" x2="407.00" y2="672.95" stroke="#222" stroke-width="1.3"/>
<rect x="407.00" y="688.00" width="73.75" height="17.30" fill="#F6766B"/>
<line x1="403.80" y1="696.70" x2="407.00" y2="696.70" stroke="#222" stroke-width="1.3"/>
<rect x="407.00" y="711.75" width="65.50" height="17.30" fill="#F6766B"/>
<line x1="403.80" y1="720.45" x2="407.00" y2="720.45" stroke="#222" stroke-width="1.3"/>
<rect x="407.00" y="735.50" width="62.50" height="17.30" fill="#F6766B"/>
<line x1="403.80" y1="744.20" x2="407.00" y2="744.20" stroke="#222" stroke-width="1.3"/>
<rect x="407.00" y="759.25" width="56.25" height="17.30" fill="#F6766B"/>
<line x1="403.80" y1="767.95" x2="407.00" y2="767.95" stroke="#222" stroke-width="1.3"/>
<rect x="407.00" y="783.00" width="37.50" height="17.30" fill="#F6766B"/>
<line x1="403.80" y1="791.70" x2="407.00" y2="791.70" stroke="#222" stroke-width="1.3"/>
<rect x="407.00" y="807.00" width="31.75" height="17.30" fill="#F6766B"/>
<line x1="403.80" y1="815.70" x2="407.00" y2="815.70" stroke="#222" stroke-width="1.3"/>
<rect x="407.00" y="830.75" width="30.50" height="17.30" fill="#F6766B"/>
<line x1="403.80" y1="839.45" x2="407.00" y2="839.45" stroke="#222" stroke-width="1.3"/>
<rect x="407.00" y="854.50" width="30.50" height="17.30" fill="#F6766B"/>
<line x1="403.80" y1="863.20" x2="407.00" y2="863.20" stroke="#222" stroke-width="1.3"/>
<rect x="407.00" y="878.25" width="29.25" height="17.30" fill="#F6766B"/>
<line x1="403.80" y1="886.95" x2="407.00" y2="886.95" stroke="#222" stroke-width="1.3"/>
<rect x="407.00" y="902.00" width="28.00" height="17.30" fill="#F6766B"/>
<line x1="403.80" y1="910.70" x2="407.00" y2="910.70" stroke="#222" stroke-width="1.3"/>
<rect x="407.00" y="926.25" width="28.00" height="17.30" fill="#F6766B"/>
<line x1="403.80" y1="934.95" x2="407.00" y2="934.95" stroke="#222" stroke-width="1.3"/>
<rect x="407.00" y="950.00" width="28.00" height="17.30" fill="#F6766B"/>
<line x1="403.80" y1="958.70" x2="407.00" y2="958.70" stroke="#222" stroke-width="1.3"/>
<circle cx="533.75" cy="648.75" r="5.50" fill="#111" fill-opacity="0.88"/>
<circle cx="500.00" cy="673.00" r="6.20" fill="#111" fill-opacity="0.88"/>
<circle cx="480.75" cy="696.50" r="4.20" fill="#111" fill-opacity="0.88"/>
<circle cx="472.50" cy="720.25" r="3.50" fill="#111" fill-opacity="0.88"/>
<circle cx="469.50" cy="744.25" r="4.00" fill="#111" fill-opacity="0.88"/>
<circle cx="463.25" cy="768.00" r="3.50" fill="#111" fill-opacity="0.88"/>
<circle cx="444.50" cy="792.00" r="3.50" fill="#111" fill-opacity="0.88"/>
<circle cx="438.75" cy="815.75" r="4.20" fill="#111" fill-opacity="0.88"/>
<circle cx="437.50" cy="839.50" r="2.00" fill="#111" fill-opacity="0.88"/>
<circle cx="437.50" cy="863.25" r="2.00" fill="#111" fill-opacity="0.88"/>
<circle cx="436.25" cy="887.00" r="2.00" fill="#111" fill-opacity="0.88"/>
<circle cx="435.00" cy="910.75" r="2.00" fill="#111" fill-opacity="0.88"/>
<circle cx="435.00" cy="935.00" r="3.50" fill="#111" fill-opacity="0.88"/>
<circle cx="435.00" cy="958.75" r="4.50" fill="#111" fill-opacity="0.88"/>
<text x="403.20" y="654.40" font-size="15" stroke="#111" stroke-width="0.6" text-anchor="end" textLength="94.75" lengthAdjust="spacingAndGlyphs">protein folding</text>
<text x="403.20" y="677.00" font-size="15" stroke="#111" stroke-width="0.6" text-anchor="end" textLength="107.50" lengthAdjust="spacingAndGlyphs">spermatogenesis</text>
<text x="403.20" y="700.00" font-size="15" stroke="#111" stroke-width="0.6" text-anchor="end" textLength="109.90" lengthAdjust="spacingAndGlyphs">piRNA processing</text>
<text x="403.20" y="724.60" font-size="15" stroke="#111" stroke-width="0.6" text-anchor="end" textLength="143.70" lengthAdjust="spacingAndGlyphs">P granule organization</text>
<text x="403.20" y="746.20" font-size="15" stroke="#111" stroke-width="0.6" text-anchor="end" textLength="146.40" lengthAdjust="spacingAndGlyphs">germ cell development</text>
<text x="403.20" y="763.10" font-size="15" stroke="#111" stroke-width="0.6" text-anchor="end" textLength="217.90" lengthAdjust="spacingAndGlyphs">transposable element silencing by</text>
<text x="403.20" y="775.20" font-size="15" stroke="#111" stroke-width="0.6" text-anchor="end" textLength="217.90" lengthAdjust="spacingAndGlyphs">piRNA-mediated DNA methylation</text>
<text x="403.20" y="792.60" font-size="15" stroke="#111" stroke-width="0.6" text-anchor="end" textLength="247.30" lengthAdjust="spacingAndGlyphs">chaperone cofactor-dependent protein</text>
<text x="403.20" y="806.10" font-size="15" stroke="#111" stroke-width="0.6" text-anchor="end" textLength="57.00" lengthAdjust="spacingAndGlyphs">refolding</text>
<text x="403.20" y="823.00" font-size="15" stroke="#111" stroke-width="0.6" text-anchor="end" textLength="163.90" lengthAdjust="spacingAndGlyphs">flagellated sperm motility</text>
<text x="403.20" y="838.80" font-size="15" stroke="#111" stroke-width="0.6" text-anchor="end" textLength="222.30" lengthAdjust="spacingAndGlyphs">positive regulation of chromosome</text>
<text x="403.20" y="851.00" font-size="15" stroke="#111" stroke-width="0.6" text-anchor="end" textLength="86.30" lengthAdjust="spacingAndGlyphs">condensation</text>
<text x="403.20" y="866.80" font-size="15" stroke="#111" stroke-width="0.6" text-anchor="end" textLength="249.30" lengthAdjust="spacingAndGlyphs">glycerophospholipid metabolic process</text>
<text x="403.20" y="884.80" font-size="15" stroke="#111" stroke-width="0.6" text-anchor="end" textLength="228.10" lengthAdjust="spacingAndGlyphs">protein insertion into mitochondrial</text>
<text x="403.20" y="897.20" font-size="15" stroke="#111" stroke-width="0.6" text-anchor="end" textLength="106.50" lengthAdjust="spacingAndGlyphs">outer membrane</text>
<text x="403.20" y="915.10" font-size="15" stroke="#111" stroke-width="0.6" text-anchor="end" textLength="199.50" lengthAdjust="spacingAndGlyphs">ether lipid biosynthetic process</text>
<text x="403.20" y="939.40" font-size="15" stroke="#111" stroke-width="0.6" text-anchor="end" textLength="178.50" lengthAdjust="spacingAndGlyphs">mitotic spindle organization</text>
<text x="403.20" y="962.40" font-size="15" stroke="#111" stroke-width="0.6" text-anchor="end" textLength="73.80" lengthAdjust="spacingAndGlyphs">cell division</text>
<line x1="406.00" y1="973.75" x2="543.00" y2="973.75" stroke="#111" stroke-width="2"/>
<line x1="407.00" y1="973.75" x2="407.00" y2="977.50" stroke="#111" stroke-width="2"/>
<text x="407.00" y="991.25" font-size="15" stroke="#111" stroke-width="0.5" text-anchor="middle">0</text>
<line x1="446.25" y1="973.75" x2="446.25" y2="977.50" stroke="#111" stroke-width="2"/>
<text x="446.25" y="991.25" font-size="15" stroke="#111" stroke-width="0.5" text-anchor="middle">2</text>
<line x1="485.75" y1="973.75" x2="485.75" y2="977.50" stroke="#111" stroke-width="2"/>
<text x="485.75" y="991.25" font-size="15" stroke="#111" stroke-width="0.5" text-anchor="middle">4</text>
<line x1="525.00" y1="973.75" x2="525.00" y2="977.50" stroke="#111" stroke-width="2"/>
<text x="525.00" y="991.25" font-size="15" stroke="#111" stroke-width="0.5" text-anchor="middle">6</text>
<text x="431.25" y="1005.00" font-size="15" stroke="#111" stroke-width="0.5" textLength="85.00" lengthAdjust="spacingAndGlyphs">-log<tspan font-size="9" dy="3">10</tspan><tspan dy="-3">(Pvalue)</tspan></text>
<text x="223.00" y="991.25" font-size="15" stroke="#111" stroke-width="0.5" textLength="38.25" lengthAdjust="spacingAndGlyphs">Count</text>
<circle cx="273.25" cy="985.75" r="1.60" fill="#111"/>
<text x="273.25" y="1005.50" font-size="15" stroke="#111" stroke-width="0.5" text-anchor="middle">2</text>
<circle cx="298.75" cy="985.75" r="4.00" fill="#111"/>
<text x="298.75" y="1005.50" font-size="15" stroke="#111" stroke-width="0.5" text-anchor="middle">4</text>
<circle cx="323.25" cy="985.75" r="5.00" fill="#111"/>
<text x="323.25" y="1005.50" font-size="15" stroke="#111" stroke-width="0.5" text-anchor="middle">6</text>
<circle cx="348.00" cy="985.75" r="5.80" fill="#111"/>
<text x="348.00" y="1005.50" font-size="15" stroke="#111" stroke-width="0.5" text-anchor="middle">8</text>
<circle cx="372.00" cy="985.75" r="6.60" fill="#111"/>
<text x="372.00" y="1005.50" font-size="15" stroke="#111" stroke-width="0.5" text-anchor="middle">10</text>
<text x="562.40" y="638.30" font-size="21" stroke="#111" stroke-width="0.6" textLength="10.40" lengthAdjust="spacingAndGlyphs">E</text>
<circle cx="646.1" cy="721.5" r="54.5" fill="#7EE99C"/>
<circle cx="720.3" cy="721.5" r="54.1" fill="#50E4EF"/>
<clipPath id="cpE"><circle cx="646.1" cy="721.5" r="54.5"/></clipPath>
<circle cx="720.3" cy="721.5" r="54.1" fill="#3CDA94" clip-path="url(#cpE)"/>
<text x="634.20" y="645.60" font-size="15" stroke="#111" stroke-width="0.6" text-anchor="middle" textLength="82.80" lengthAdjust="spacingAndGlyphs">All recovered</text>
<text x="634.35" y="661.60" font-size="15" stroke="#111" stroke-width="0.6" text-anchor="middle" textLength="57.50" lengthAdjust="spacingAndGlyphs">DEGs.SVs</text>
<text x="748.45" y="653.75" font-size="15" stroke="#111" stroke-width="0.6" text-anchor="middle" textLength="51.90" lengthAdjust="spacingAndGlyphs">All DAPs</text>
<text x="629.30" y="726.25" font-size="15" stroke="#111" stroke-width="0.65" text-anchor="middle" textLength="22.60" lengthAdjust="spacingAndGlyphs">164</text>
<text x="683.60" y="726.25" font-size="15" stroke="#111" stroke-width="0.65" text-anchor="middle" textLength="15.25" lengthAdjust="spacingAndGlyphs">24</text>
<text x="737.80" y="726.25" font-size="15" stroke="#111" stroke-width="0.65" text-anchor="middle" textLength="22.40" lengthAdjust="spacingAndGlyphs">728</text>
<line x1="683.40" y1="732.50" x2="683.40" y2="781.00" stroke="#111" stroke-width="1.7"/>
<path d="M676.1,776.2 L683.4,782.2 L690.4,776.2 L683.4,790.6 Z" fill="#111"/>
<rect x="612.80" y="793.20" width="141.40" height="204.00" fill="#31D89C"/>
<text x="683.33" y="810.30" font-size="14.5" stroke="#111" stroke-width="0.75" text-anchor="middle" textLength="82.85" lengthAdjust="spacingAndGlyphs" font-style="italic">CLIC4, HDGF,</text>
<text x="684.05" y="826.74" font-size="14.5" stroke="#111" stroke-width="0.75" text-anchor="middle" textLength="91.90" lengthAdjust="spacingAndGlyphs" font-style="italic">CDH13, MPP6,</text>
<text x="685.50" y="843.18" font-size="14.5" stroke="#111" stroke-width="0.75" text-anchor="middle" textLength="92.80" lengthAdjust="spacingAndGlyphs" font-style="italic">TDRD1, MCM6,</text>
<text x="682.65" y="859.62" font-size="14.5" stroke="#111" stroke-width="0.75" text-anchor="middle" textLength="96.50" lengthAdjust="spacingAndGlyphs" font-style="italic">CLGN, CNOT10,</text>
<text x="682.48" y="876.06" font-size="14.5" stroke="#111" stroke-width="0.75" text-anchor="middle" textLength="105.55" lengthAdjust="spacingAndGlyphs" font-style="italic">NAP1L4, MTMR3,</text>
<text x="682.48" y="892.50" font-size="14.5" stroke="#111" stroke-width="0.75" text-anchor="middle" textLength="105.55" lengthAdjust="spacingAndGlyphs" font-style="italic">DNAJC7, LMAN1,</text>
<text x="682.45" y="908.94" font-size="14.5" stroke="#111" stroke-width="0.75" text-anchor="middle" textLength="98.10" lengthAdjust="spacingAndGlyphs" font-style="italic">MPDU1, PTCD3,</text>
<text x="683.60" y="925.38" font-size="14.5" stroke="#111" stroke-width="0.75" text-anchor="middle" textLength="102.20" lengthAdjust="spacingAndGlyphs" font-style="italic">HSPA4, ZNF638,</text>
<text x="684.52" y="941.82" font-size="14.5" stroke="#111" stroke-width="0.75" text-anchor="middle" textLength="98.45" lengthAdjust="spacingAndGlyphs" font-style="italic">AFG3L2, NMD3,</text>
<text x="684.33" y="958.26" font-size="14.5" stroke="#111" stroke-width="0.75" text-anchor="middle" textLength="101.85" lengthAdjust="spacingAndGlyphs" font-style="italic">SPATS2, GMCL1,</text>
<text x="684.35" y="974.70" font-size="14.5" stroke="#111" stroke-width="0.75" text-anchor="middle" textLength="104.50" lengthAdjust="spacingAndGlyphs" font-style="italic">CFAP36, DDHD1,</text>
<text x="683.80" y="991.14" font-size="14.5" stroke="#111" stroke-width="0.75" text-anchor="middle" textLength="131.80" lengthAdjust="spacingAndGlyphs" font-style="italic">PPP1R9A, CDK5RAP2</text>
</svg></body></html>
